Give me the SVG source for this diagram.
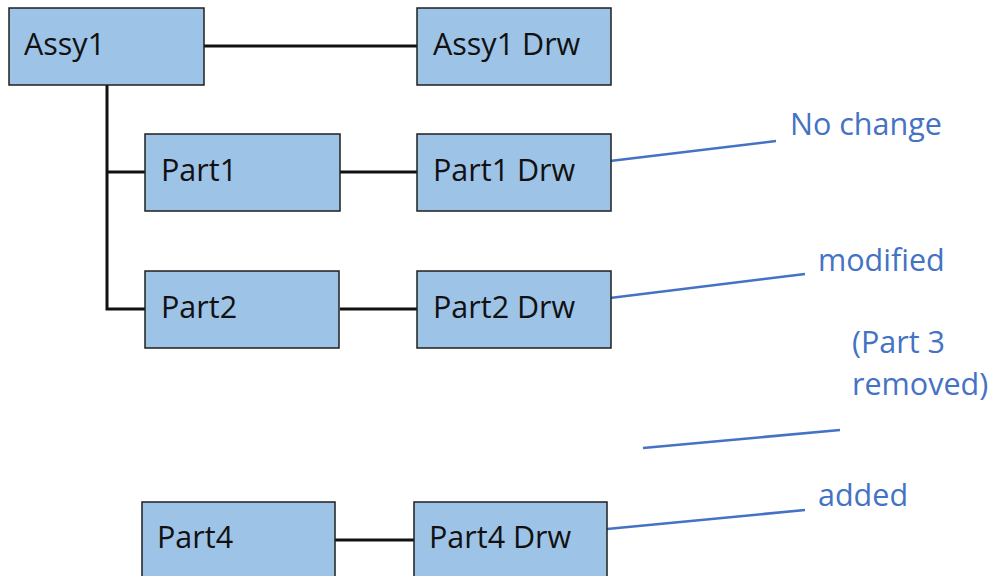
<svg xmlns="http://www.w3.org/2000/svg" width="1000" height="576" viewBox="0 0 1000 576">
<style>
.box{fill:#9DC3E6;stroke:#1f1f1f;stroke-width:1.5}
.lbl{font-family:"Open Sans","Noto Sans",sans-serif;font-size:30.5px;fill:#111}
.note{font-family:"Open Sans","Noto Sans",sans-serif;font-size:30.5px;fill:#4472C4}
.conn{stroke:#111;stroke-width:3;fill:none}
.call{stroke:#4472C4;stroke-width:2.5;fill:none}
</style>
<rect width="1000" height="576" fill="#fff"/>
<g id="connectors">
<line class="conn" x1="204" y1="46" x2="417" y2="46"/>
<polyline class="conn" points="107,85 107,309 145,309"/>
<line class="conn" x1="107" y1="172" x2="145" y2="172"/>
<line class="conn" x1="340" y1="172" x2="417" y2="172"/>
<line class="conn" x1="340" y1="309" x2="417" y2="309"/>
<line class="conn" x1="335" y1="540" x2="414" y2="540"/>
</g>
<g id="callouts">
<line class="call" x1="610" y1="161" x2="776" y2="141"/>
<line class="call" x1="610" y1="298" x2="805" y2="274"/>
<line class="call" x1="643" y1="448" x2="840" y2="430"/>
<line class="call" x1="607" y1="529" x2="805" y2="510"/>
</g>
<g id="assy1"><rect class="box" x="9" y="8" width="195" height="77"/><text class="lbl" x="24" y="55">Assy1</text></g>
<g id="assy1drw"><rect class="box" x="417" y="8" width="194" height="77"/><text class="lbl" x="433" y="55">Assy1 Drw</text></g>
<g id="part1"><rect class="box" x="145" y="134" width="195" height="77"/><text class="lbl" x="161" y="181">Part1</text></g>
<g id="part1drw"><rect class="box" x="417" y="134" width="194" height="77"/><text class="lbl" x="433" y="181">Part1 Drw</text></g>
<g id="part2"><rect class="box" x="145" y="271" width="194" height="77"/><text class="lbl" x="161" y="318">Part2</text></g>
<g id="part2drw"><rect class="box" x="417" y="271" width="194" height="77"/><text class="lbl" x="433" y="318">Part2 Drw</text></g>
<g id="part4"><rect class="box" x="142" y="502" width="193" height="80"/><text class="lbl" x="157" y="548">Part4</text></g>
<g id="part4drw"><rect class="box" x="414" y="502" width="193" height="80"/><text class="lbl" x="429" y="548">Part4 Drw</text></g>
<g id="notes">
<text class="note" x="790" y="135">No change</text>
<text class="note" x="818" y="271">modified</text>
<text class="note" x="852" y="353">(Part 3</text>
<text class="note" x="852" y="395">removed)</text>
<text class="note" x="818" y="506">added</text>
</g>
</svg>
